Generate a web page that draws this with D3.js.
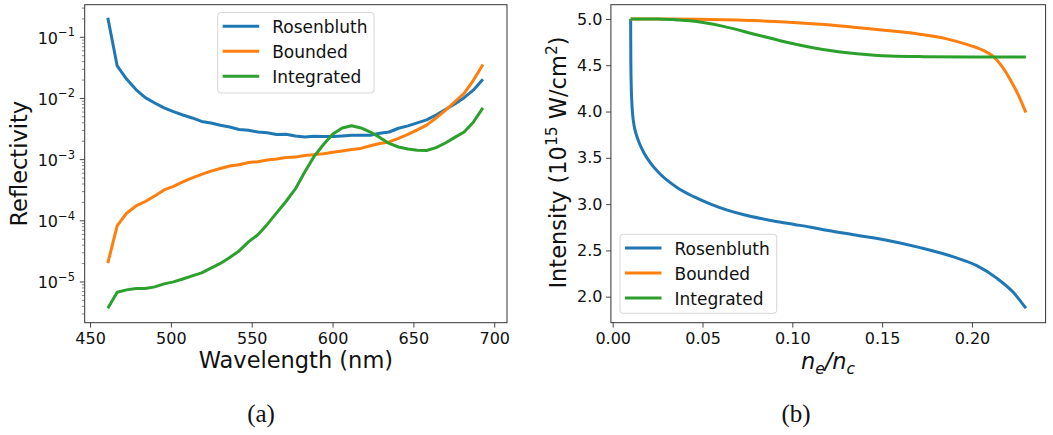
<!DOCTYPE html>
<meta charset="utf-8">
<head>
	<title>Reflectivity and intensity</title>
	<script src="https://cdn.jsdelivr.net/npm/d3@7"></script>
	<style>
		body { margin: 0; background: #fff; }
		text { font-family: "DejaVu Sans", sans-serif; fill: #111; }
	</style>
</head>
<body>
	<svg id="fig" width="1053" height="435"></svg>
	<script>
		// (a) reflectivity vs wavelength
		var wavelength = [461.0, 466.8, 472.6, 478.4, 484.2, 490.0, 495.8, 501.6, 507.4, 513.2,
			519.0, 524.8, 530.6, 536.4, 542.2, 548.0, 553.8, 559.6, 565.4, 571.2,
			577.0, 582.8, 588.6, 594.4, 600.2, 606.0, 611.8, 617.6, 623.4, 629.2,
			635.0, 640.8, 646.6, 652.4, 658.2, 664.0, 669.8, 675.6, 681.4, 687.2, 693.0];
		var reflRosenbluth = [0.209, 0.034, 0.0208, 0.0140, 0.0103, 0.00844, 0.0070, 0.00608, 0.00537, 0.0048,
			0.00421, 0.00398, 0.00365, 0.00342, 0.00311, 0.00302, 0.00283, 0.00276, 0.00258, 0.0026,
			0.00244, 0.00234, 0.00241, 0.00238, 0.00238, 0.00244, 0.00251, 0.00251, 0.00251, 0.0027,
			0.00283, 0.00326, 0.00356, 0.00398, 0.00446, 0.00537, 0.00661, 0.00813, 0.0103, 0.0138, 0.0206];
		var reflBounded = [2.03e-5, 8.35e-5, 1.33e-4, 1.75e-4, 2.07e-4, 2.55e-4, 3.20e-4, 3.65e-4, 4.32e-4, 5.02e-4,
			5.73e-4, 6.49e-4, 7.18e-4, 7.89e-4, 8.26e-4, 9.0e-4, 9.27e-4, 9.89e-4, 1.026e-3, 1.087e-3,
			1.10e-3, 1.167e-3, 1.208e-3, 1.248e-3, 1.321e-3, 1.387e-3, 1.462e-3, 1.525e-3, 1.687e-3, 1.84e-3,
			1.946e-3, 2.22e-3, 2.58e-3, 3.06e-3, 3.66e-3, 4.80e-3, 6.37e-3, 8.83e-3, 1.21e-2, 2.00e-2, 3.60e-2];
		var reflIntegrated = [3.73e-6, 6.81e-6, 7.43e-6, 7.80e-6, 7.80e-6, 8.32e-6, 9.31e-6, 1.004e-5, 1.12e-5, 1.26e-5,
			1.41e-5, 1.68e-5, 2.01e-5, 2.52e-5, 3.22e-5, 4.52e-5, 5.93e-5, 8.73e-5, 1.35e-4, 2.07e-4,
			3.32e-4, 6.30e-4, 1.13e-3, 1.77e-3, 2.63e-3, 3.30e-3, 3.58e-3, 3.30e-3, 2.83e-3, 2.31e-3,
			1.84e-3, 1.61e-3, 1.49e-3, 1.43e-3, 1.41e-3, 1.57e-3, 1.87e-3, 2.31e-3, 2.83e-3, 4.13e-3, 7.0e-3];

		// (b) intensity vs density
		var densRosenbluth = [0.0100, 0.01003, 0.0101, 0.0103, 0.0106, 0.0111, 0.0118, 0.0130, 0.0148, 0.0175,
			0.0208, 0.0264, 0.0358, 0.0451, 0.0545, 0.0638, 0.0731, 0.0824, 0.0918, 0.1011,
			0.1104, 0.1200, 0.1340, 0.1526, 0.1711, 0.1897, 0.2027, 0.2138, 0.2231, 0.2300];
		var intRosenbluth = [5.00, 4.80, 4.55, 4.30, 4.12, 3.97, 3.86, 3.76, 3.66, 3.55,
			3.45, 3.325, 3.18, 3.08, 3.00, 2.935, 2.885, 2.845, 2.81, 2.78,
			2.75, 2.715, 2.67, 2.61, 2.53, 2.43, 2.335, 2.20, 2.045, 1.875];
		var densBounded = [0.0100, 0.0300, 0.0542, 0.0820, 0.1180, 0.1340, 0.1526, 0.1710, 0.1860, 0.1970,
			0.2063, 0.2120, 0.2166, 0.2212, 0.2258, 0.2300];
		var intBounded = [5.00, 5.00, 4.995, 4.98, 4.94, 4.91, 4.875, 4.835, 4.785, 4.725,
			4.66, 4.593, 4.49, 4.35, 4.18, 3.99];
		var densIntegrated = [0.0100, 0.0250, 0.0356, 0.0430, 0.0616, 0.0800, 0.0987, 0.1170, 0.1360, 0.1540,
			0.1730, 0.2000, 0.2300];
		var intIntegrated = [5.00, 5.00, 4.99, 4.98, 4.92, 4.83, 4.74, 4.67, 4.625, 4.60,
			4.593, 4.59, 4.59];

		var seriesNames = ["Rosenbluth", "Bounded", "Integrated"];
		var seriesColors = ["#1f77b4", "#ff7f0e", "#2ca02c"];
		var xTicksA = [450, 500, 550, 600, 650, 700];
		var yTicksA = [1e-1, 1e-2, 1e-3, 1e-4, 1e-5];
		var xTicksB = [0, 0.05, 0.10, 0.15, 0.20];
		var yTicksB = [2.0, 2.5, 3.0, 3.5, 4.0, 4.5, 5.0];

		var svg = d3.select("#fig");
		svg.append("rect").attr("width", 1053).attr("height", 435).attr("fill", "white");

		var tickLen = 4.9, spine = "#333";

		function legend(g, x0, y0, w, h) {
			g.append("rect")
				.attr("x", x0).attr("y", y0).attr("width", w).attr("height", h)
				.attr("rx", 3)
				.attr("fill", "white").attr("fill-opacity", 0.8)
				.attr("stroke", "#d6d6d6").attr("stroke-width", 1);
			seriesNames.forEach(function (name, k) {
				var yy = y0 + 13.7 + k * 25;
				g.append("line")
					.attr("x1", x0 + 5).attr("x2", x0 + 41.5)
					.attr("y1", yy).attr("y2", yy)
					.attr("stroke", seriesColors[k]).attr("stroke-width", 3);
				g.append("text")
					.attr("x", x0 + 54.5).attr("y", yy + 6.5)
					.attr("font-size", "17px")
					.text(name);
			});
		}

		// ---------- panel (a) ----------
		var xa = d3.scaleLinear().domain([446.7, 707.9]).range([84.7, 507]);
		var ya = d3.scaleLog().domain([2.16e-6, 0.341]).range([322.7, 4.7]);
		var ga = svg.append("g");

		var lineA = d3.line()
			.x(function (d, i) { return xa(wavelength[i]); })
			.y(function (d) { return ya(d); });

		[reflRosenbluth, reflBounded, reflIntegrated].forEach(function (vals, k) {
			ga.append("path")
				.attr("d", lineA(vals))
				.attr("fill", "none")
				.attr("stroke", seriesColors[k])
				.attr("stroke-width", 3)
				.attr("stroke-linejoin", "round");
		});

		var axA = ga.append("g")
			.attr("transform", "translate(0,322.7)")
			.call(d3.axisBottom(xa).tickValues(xTicksA).tickSize(tickLen).tickSizeOuter(0).tickPadding(5));
		axA.select(".domain").remove();
		axA.selectAll("line").attr("stroke", spine).attr("stroke-width", 0.9);
		axA.selectAll("text").attr("font-size", "16px").attr("font-family", "DejaVu Sans").attr("fill", "#111");

		// minor log ticks
		for (var e = -6; e <= -1; e++) {
			for (var m = 2; m <= 9; m++) {
				var v = m * Math.pow(10, e);
				if (v < ya.domain()[0] || v > ya.domain()[1]) continue;
				ga.append("line")
					.attr("x1", 84.7 - 2.8).attr("x2", 84.7)
					.attr("y1", ya(v)).attr("y2", ya(v))
					.attr("stroke", spine).attr("stroke-width", 0.6);
			}
		}
		yTicksA.forEach(function (v) {
			var y = ya(v);
			ga.append("line")
				.attr("x1", 84.7 - tickLen).attr("x2", 84.7)
				.attr("y1", y).attr("y2", y)
				.attr("stroke", spine).attr("stroke-width", 0.9);
			var t = ga.append("text")
				.attr("x", 75).attr("y", y + 6.5)
				.attr("text-anchor", "end")
				.attr("font-size", "16px");
			t.append("tspan").text("10");
			t.append("tspan").attr("dy", -7.5).attr("font-size", "11.5px")
				.text("\u2212" + Math.round(-Math.log10(v)));
		});

		ga.append("rect")
			.attr("x", 84.7).attr("y", 4.7).attr("width", 507 - 84.7).attr("height", 322.7 - 4.7)
			.attr("fill", "none").attr("stroke", spine).attr("stroke-width", 1);

		ga.append("text")
			.attr("x", 295.9).attr("y", 368)
			.attr("text-anchor", "middle").attr("font-size", "22.5px")
			.text("Wavelength (nm)");
		ga.append("text")
			.attr("transform", "translate(26.5,163.7) rotate(-90)")
			.attr("text-anchor", "middle").attr("font-size", "22.5px")
			.text("Reflectivity");

		legend(ga, 217.7, 12.5, 156.3, 80.5);

		// ---------- panel (b) ----------
		var xb = d3.scaleLinear().domain([-0.001, 0.241]).range([610.9, 1045.6]);
		var yb = d3.scaleLinear().domain([1.719, 5.154]).range([322.7, 4.7]);
		var gb = svg.append("g");

		var lineB = function (xs, ys) {
			return d3.line()
				.x(function (d, i) { return xb(xs[i]); })
				.y(function (d) { return yb(d); })
				.curve(d3.curveMonotoneX)(ys);
		};
		[[densRosenbluth, intRosenbluth], [densBounded, intBounded], [densIntegrated, intIntegrated]].forEach(function (s, k) {
			gb.append("path")
				.attr("d", lineB(s[0], s[1]))
				.attr("fill", "none")
				.attr("stroke", seriesColors[k])
				.attr("stroke-width", 3)
				.attr("stroke-linejoin", "round");
		});

		var axBx = gb.append("g")
			.attr("transform", "translate(0,322.7)")
			.call(d3.axisBottom(xb).tickValues(xTicksB).tickFormat(d3.format(".2f")).tickSize(tickLen).tickSizeOuter(0).tickPadding(5));
		var axBy = gb.append("g")
			.attr("transform", "translate(610.9,0)")
			.call(d3.axisLeft(yb).tickValues(yTicksB).tickFormat(d3.format(".1f")).tickSize(tickLen).tickSizeOuter(0).tickPadding(3.5));
		[axBx, axBy].forEach(function (ax) {
			ax.select(".domain").remove();
			ax.selectAll("line").attr("stroke", spine).attr("stroke-width", 0.9);
			ax.selectAll("text").attr("font-size", "16px").attr("font-family", "DejaVu Sans").attr("fill", "#111");
		});

		gb.append("rect")
			.attr("x", 610.9).attr("y", 4.7).attr("width", 1045.6 - 610.9).attr("height", 322.7 - 4.7)
			.attr("fill", "none").attr("stroke", spine).attr("stroke-width", 1);

		var xl = gb.append("text")
			.attr("x", 828).attr("y", 369)
			.attr("text-anchor", "middle").attr("font-size", "22.5px")
			.attr("font-style", "italic");
		xl.append("tspan").text("n");
		xl.append("tspan").attr("dy", 5).attr("font-size", "15.5px").text("e");
		xl.append("tspan").attr("dy", -5).text("/n");
		xl.append("tspan").attr("dy", 5).attr("font-size", "15.5px").text("c");

		var yl = gb.append("text")
			.attr("transform", "translate(566,162.5) rotate(-90)")
			.attr("text-anchor", "middle").attr("font-size", "22.5px");
		yl.append("tspan").text("Intensity (10");
		yl.append("tspan").attr("dy", -9).attr("font-size", "15.5px").text("15");
		yl.append("tspan").attr("dy", 9).text(" W/cm");
		yl.append("tspan").attr("dy", -9).attr("font-size", "15.5px").text("2");
		yl.append("tspan").attr("dy", 9).text(")");

		legend(gb, 620, 234.3, 156.7, 79);

		// captions
		svg.append("text").attr("x", 261).attr("y", 422)
			.attr("text-anchor", "middle").attr("font-size", "25px")
			.style("font-family", "'Liberation Serif', serif")
			.text("(a)");
		svg.append("text").attr("x", 796).attr("y", 422)
			.attr("text-anchor", "middle").attr("font-size", "25px")
			.style("font-family", "'Liberation Serif', serif")
			.text("(b)");
	</script>
</body>
